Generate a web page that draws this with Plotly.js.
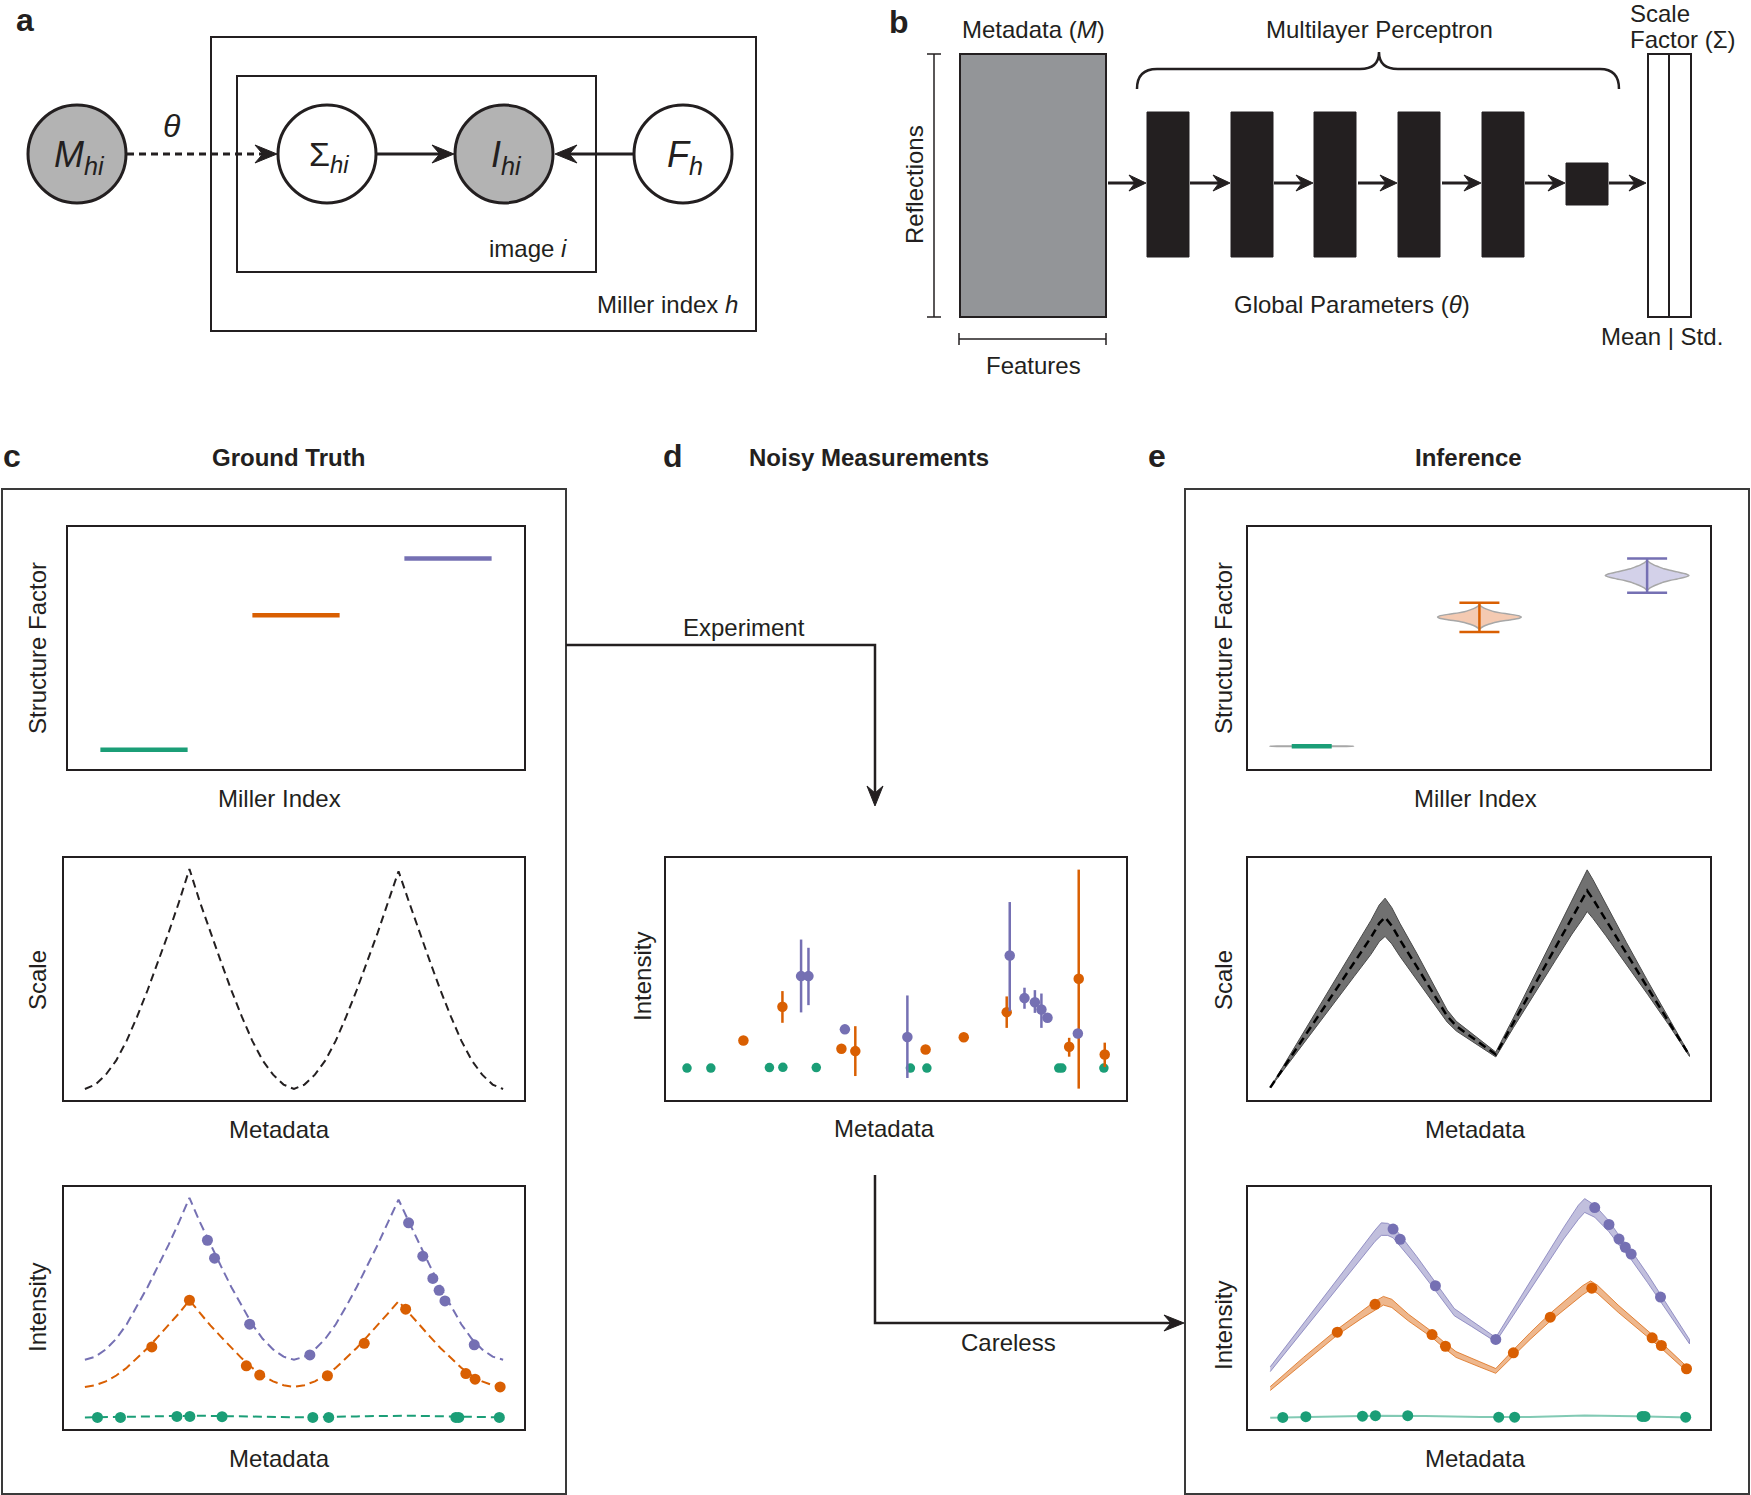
<!DOCTYPE html>
<html><head><meta charset="utf-8">
<script src="https://cdn.plot.ly/plotly-3.0.1.min.js"></script>
<style>html,body{margin:0;padding:0;background:#fff;}#fig{width:1751px;height:1495px;}</style>
</head><body><div id="fig"></div>
<script>
// ---------------- DATA ----------------
const millerIdx = [0, 1, 2];
const sfTrue = [0.92, 7.31, 10.0];
const sfInfCenter = [1.08, 7.22, 9.2];
const sfInfUpper = [1.13, 7.90, 10.0];
const sfInfLower = [1.03, 6.51, 8.37];
const violinHalfHeight = [0.04, 0.57, 0.70];
const violinProfT = [0, 0.1, 0.24, 0.35, 0.45, 0.6, 0.7, 0.85, 1];
const violinProfOrange = [1, 0.95, 0.72, 0.5, 0.36, 0.22, 0.14, 0.06, 0];
const violinProfPurple = [1, 0.93, 0.72, 0.54, 0.4, 0.26, 0.17, 0.07, 0];

const metaGrid = [0,2.5,5,7.5,10,12.5,15,17.5,20,22.5,25,27.5,30,32.5,35,37.5,40,42.5,45,47.5,50,52.5,55,57.5,60,62.5,65,67.5,70,72.5,75,77.5,80,82.5,85,87.5,90,92.5,95,97.5,100];
const scaleTrue = [0,0.02,0.065,0.13,0.22,0.33,0.45,0.58,0.71,0.85,1.0,0.85,0.71,0.58,0.45,0.33,0.22,0.13,0.065,0.02,0,0.02,0.065,0.13,0.22,0.33,0.45,0.58,0.71,0.85,0.99,0.85,0.71,0.58,0.45,0.33,0.22,0.13,0.065,0.02,0];
const purpleTrueCurve = [0.286,0.299,0.329,0.373,0.433,0.507,0.587,0.674,0.761,0.855,0.955,0.855,0.761,0.674,0.587,0.507,0.433,0.373,0.329,0.299,0.286,0.299,0.329,0.373,0.433,0.507,0.587,0.674,0.761,0.855,0.948,0.855,0.761,0.674,0.587,0.507,0.433,0.373,0.329,0.299,0.286];
const orangeTrueCurve = [0.174,0.181,0.197,0.221,0.253,0.292,0.335,0.382,0.428,0.478,0.532,0.478,0.428,0.382,0.335,0.292,0.253,0.221,0.197,0.181,0.174,0.181,0.197,0.221,0.253,0.292,0.335,0.382,0.428,0.478,0.528,0.478,0.428,0.382,0.335,0.292,0.253,0.221,0.197,0.181,0.174];
const greenTrueCurve = [0.048,0.048,0.049,0.049,0.050,0.051,0.052,0.053,0.054,0.055,0.056,0.055,0.054,0.053,0.052,0.051,0.050,0.049,0.049,0.048,0.048,0.048,0.049,0.049,0.050,0.051,0.052,0.053,0.054,0.055,0.056,0.055,0.054,0.053,0.052,0.051,0.050,0.049,0.049,0.048,0.048];

const greenX = [3.0, 8.5, 22.0, 25.1, 32.8, 54.5, 58.3, 88.7, 89.4, 99.1];
const orangeX = [16.0, 25.0, 38.6, 41.8, 58.0, 66.8, 76.7, 91.1, 93.3, 99.3];
const purpleX = [29.3, 31.0, 39.4, 53.8, 77.4, 80.8, 83.2, 84.7, 86.1, 93.1];

const greenTrue = [0.048,0.048,0.052,0.052,0.051,0.048,0.048,0.048,0.048,0.048];
const orangeTrue = [0.339,0.532,0.261,0.223,0.220,0.354,0.495,0.229,0.206,0.174];
const purpleTrue = [0.780,0.706,0.433,0.306,0.852,0.714,0.622,0.573,0.529,0.348];

const greenObs = [0.132,0.132,0.134,0.135,0.134,0.132,0.132,0.132,0.132,0.132];
const orangeObs = [0.246,0.385,0.212,0.202,0.209,0.259,0.363,0.220,0.501,0.188];
const orangeErrUp = [0,0.065,0,0.103,0,0,0.065,0.037,0.451,0.049];
const orangeErrDown = [0,0.066,0,0.103,0,0,0.065,0.041,0.454,0.052];
const purpleObs = [0.512,0.512,0.292,0.260,0.597,0.421,0.404,0.374,0.340,0.275];
const purpleErrUp = [0.151,0.117,0,0.172,0.221,0.043,0.050,0.066,0.010,0];
const purpleErrDown = [0.150,0.120,0,0.169,0.230,0.044,0.044,0.076,0.010,0];

const scaleBandX = [0,5,10,15,20,24,26,27.4,29,31,35,40,42.2,44.4,50,53.8,58,63,68,72,74.5,75.6,77,80,85,90,95,100];
const scaleMean = [0.051,0.180,0.310,0.438,0.568,0.671,0.730,0.755,0.720,0.660,0.550,0.410,0.347,0.305,0.235,0.188,0.319,0.475,0.631,0.756,0.828,0.865,0.830,0.746,0.605,0.465,0.325,0.184];
const scaleHi = [0.051,0.194,0.339,0.482,0.626,0.741,0.806,0.834,0.795,0.728,0.605,0.445,0.372,0.325,0.249,0.198,0.339,0.512,0.686,0.826,0.908,0.951,0.910,0.812,0.650,0.493,0.338,0.188];
const scaleLo = [0.051,0.166,0.281,0.394,0.510,0.601,0.654,0.676,0.645,0.592,0.495,0.375,0.322,0.285,0.221,0.178,0.299,0.438,0.576,0.686,0.748,0.779,0.750,0.680,0.560,0.437,0.312,0.180];

const purpleBandX = [0,10,20,25,26.5,28,29.3,31,35,39.4,43.9,48,53.8,60,65,70,73.5,75,77.4,80.8,83.2,84.7,86.1,90,93.1,100];
const purpleHi = [0.257,0.484,0.712,0.822,0.852,0.850,0.838,0.802,0.712,0.608,0.498,0.448,0.378,0.553,0.693,0.833,0.925,0.952,0.925,0.860,0.800,0.766,0.738,0.640,0.558,0.370];
const purpleLo = [0.237,0.455,0.668,0.775,0.800,0.800,0.790,0.755,0.672,0.572,0.468,0.424,0.360,0.525,0.655,0.785,0.866,0.895,0.875,0.815,0.760,0.728,0.700,0.605,0.528,0.352];
const orangeBandX = [0,8,16,22,25,27,29,33,38.6,41.8,44.3,50,53.8,58,62,66.8,71,74.5,76.4,78,83,88,91.1,93.3,99.3,100];
const orangeHi = [0.175,0.297,0.412,0.487,0.528,0.548,0.536,0.474,0.402,0.354,0.320,0.278,0.250,0.327,0.398,0.478,0.540,0.592,0.612,0.595,0.512,0.436,0.390,0.357,0.259,0.256];
const orangeLo = [0.159,0.275,0.388,0.459,0.492,0.512,0.502,0.446,0.378,0.330,0.296,0.256,0.230,0.303,0.370,0.446,0.506,0.554,0.576,0.561,0.482,0.408,0.364,0.333,0.239,0.238];
const greenLineX = [0,12,25,37,50,62,75,87,100];
const greenLineY = [0.047,0.050,0.055,0.054,0.050,0.050,0.056,0.053,0.048];

const greenPred = [0.048,0.051,0.053,0.055,0.055,0.049,0.049,0.052,0.052,0.049];
const orangePred = [0.400,0.515,0.390,0.342,0.315,0.462,0.582,0.377,0.345,0.249];
const purplePred = [0.826,0.784,0.592,0.370,0.915,0.845,0.785,0.751,0.723,0.545];

// ---------------- STYLE / HELPERS ----------------
const W = 1751, H = 1495;
const px = x => x / W, py = y => 1 - y / H;
const FONT = 'Liberation Sans, Arial, Helvetica, sans-serif';
const INK = '#231f20';
const GREEN = '#1b9e77', ORANGE = '#d95f02', PURPLE = '#7570b3';
const sfColors = [GREEN, ORANGE, PURPLE];

function axes(box, xr, yr, n) {
  const [x0, y0, x1, y1] = box;
  const base = {showline:true, mirror:true, linecolor:INK, linewidth:2, showticklabels:false,
    ticks:'', showgrid:false, zeroline:false, fixedrange:true};
  const xa = Object.assign({}, base, {domain:[px(x0), px(x1)], range:xr, anchor:'y'+(n===1?'':n)});
  const ya = Object.assign({}, base, {domain:[py(y1), py(y0)], range:yr, anchor:'x'+(n===1?'':n)});
  return [xa, ya];
}
const boxes = {
  1:[68,527,524,769], 2:[64,858,524,1100], 3:[64,1187,524,1429], 4:[666,858,1126,1100],
  5:[1248,527,1710,769], 6:[1248,858,1710,1100], 7:[1248,1187,1710,1429]
};
const ranges = {
  1:[[-0.5,2.5],[0,11.5]], 2:[[-5,105],[-0.05,1.05]], 3:[[-5,105],[0,1]], 4:[[-1.84,104.2],[0,1]],
  5:[[-0.38,2.375],[0,11.5]], 6:[[-5.3,104.9],[0,1]], 7:[[-5.3,104.9],[0,1]]
};

const layout = {width:W, height:H, margin:{l:0,r:0,t:0,b:0}, showlegend:false,
  paper_bgcolor:'#fff', plot_bgcolor:'#fff', font:{family:FONT, color:INK}, shapes:[], annotations:[]};
for (let n = 1; n <= 7; n++) {
  const [xa, ya] = axes(boxes[n], ranges[n][0], ranges[n][1], n);
  layout['xaxis' + (n===1?'':n)] = xa;
  layout['yaxis' + (n===1?'':n)] = ya;
}
const ax = n => ({xaxis:'x'+(n===1?'':n), yaxis:'y'+(n===1?'':n)});

const traces = [];
// c1: ground-truth structure factors
const segHalf = 0.287;
millerIdx.forEach((m, i) => traces.push(Object.assign({type:'scatter', mode:'lines',
  x:[m - segHalf, m + segHalf], y:[sfTrue[i], sfTrue[i]], line:{color:sfColors[i], width:4.5}}, ax(1))));

// c2: true scale
traces.push(Object.assign({type:'scatter', mode:'lines', x:metaGrid, y:scaleTrue,
  line:{color:INK, width:2, dash:'8px,5px'}}, ax(2)));

// c3: true intensities
[[greenTrueCurve, GREEN], [orangeTrueCurve, ORANGE], [purpleTrueCurve, PURPLE]].forEach(([yy, c]) =>
  traces.push(Object.assign({type:'scatter', mode:'lines', x:metaGrid, y:yy, line:{color:c, width:2, dash:'9px,5px'}}, ax(3))));
[[greenX, greenTrue, GREEN], [orangeX, orangeTrue, ORANGE], [purpleX, purpleTrue, PURPLE]].forEach(([xx, yy, c]) =>
  traces.push(Object.assign({type:'scatter', mode:'markers', x:xx, y:yy, marker:{color:c, size:11}}, ax(3))));

// d: noisy measurements
traces.push(Object.assign({type:'scatter', mode:'markers', x:greenX, y:greenObs, marker:{color:GREEN, size:9.5}}, ax(4)));
traces.push(Object.assign({type:'scatter', mode:'markers', x:orangeX, y:orangeObs, marker:{color:ORANGE, size:10.5},
  error_y:{type:'data', symmetric:false, array:orangeErrUp, arrayminus:orangeErrDown, color:ORANGE, thickness:2.5, width:0}}, ax(4)));
traces.push(Object.assign({type:'scatter', mode:'markers', x:purpleX, y:purpleObs, marker:{color:PURPLE, size:10.5},
  error_y:{type:'data', symmetric:false, array:purpleErrUp, arrayminus:purpleErrDown, color:PURPLE, thickness:2.5, width:0}}, ax(4)));

// e1: inferred structure factors (violins + caps)
const violinFill = ['rgba(27,158,119,0.3)', 'rgba(240,180,145,0.7)', 'rgba(200,198,228,0.8)'];
const violinProf = [violinProfOrange, violinProfOrange, violinProfPurple];
const violinHalfWidth = 0.25;
millerIdx.forEach((m, i) => {
  const xs = [], ys = [];
  const T = violinProfT, Wp = violinProf[i], hh = violinHalfHeight[i];
  for (let k = T.length - 1; k >= 0; k--) { xs.push(m + Wp[k] * violinHalfWidth); ys.push(sfInfCenter[i] - T[k] * hh); }
  for (let k = 1; k < T.length; k++) { xs.push(m + Wp[k] * violinHalfWidth); ys.push(sfInfCenter[i] + T[k] * hh); }
  for (let k = T.length - 2; k >= 0; k--) { xs.push(m - Wp[k] * violinHalfWidth); ys.push(sfInfCenter[i] + T[k] * hh); }
  for (let k = 1; k < T.length; k++) { xs.push(m - Wp[k] * violinHalfWidth); ys.push(sfInfCenter[i] - T[k] * hh); }
  traces.push(Object.assign({type:'scatter', mode:'lines', x:xs, y:ys, fill:'toself', fillcolor:violinFill[i],
    line:{color:'#a7a7a7', width:1.5, shape:'spline', smoothing:0.6}}, ax(5)));
});
millerIdx.forEach((m, i) => traces.push(Object.assign({type:'scatter', mode:'markers', x:[m], y:[sfInfCenter[i]],
  marker:{size:1, opacity:0}, error_y:{type:'data', symmetric:false, array:[sfInfUpper[i]-sfInfCenter[i]],
  arrayminus:[sfInfCenter[i]-sfInfLower[i]], color:sfColors[i], thickness:2.5, width:20}}, ax(5))));

// e2: inferred scale
traces.push(Object.assign({type:'scatter', mode:'lines', x:scaleBandX.concat(scaleBandX.slice().reverse()),
  y:scaleHi.concat(scaleLo.slice().reverse()), fill:'toself', fillcolor:'#717171', line:{color:'#4a4a4a', width:1}}, ax(6)));
traces.push(Object.assign({type:'scatter', mode:'lines', x:scaleBandX, y:scaleMean,
  line:{color:'#000', width:2.5, dash:'8px,5px'}}, ax(6)));

// e3: inferred intensities
traces.push(Object.assign({type:'scatter', mode:'lines', x:greenLineX, y:greenLineY, line:{color:'rgba(27,158,119,0.55)', width:2}}, ax(7)));
traces.push(Object.assign({type:'scatter', mode:'lines', x:purpleBandX.concat(purpleBandX.slice().reverse()),
  y:purpleHi.concat(purpleLo.slice().reverse()), fill:'toself', fillcolor:'rgba(117,112,179,0.45)',
  line:{color:'rgba(117,112,179,0.7)', width:1}}, ax(7)));
traces.push(Object.assign({type:'scatter', mode:'lines', x:orangeBandX.concat(orangeBandX.slice().reverse()),
  y:orangeHi.concat(orangeLo.slice().reverse()), fill:'toself', fillcolor:'rgba(217,95,2,0.45)',
  line:{color:'rgba(217,95,2,0.7)', width:1}}, ax(7)));
[[purpleX, purplePred, PURPLE], [orangeX, orangePred, ORANGE], [greenX, greenPred, GREEN]].forEach(([xx, yy, c]) =>
  traces.push(Object.assign({type:'scatter', mode:'markers', x:xx, y:yy, marker:{color:c, size:11}}, ax(7))));

traces.forEach(t => { t.hoverinfo = 'skip'; });

// ---------------- DIAGRAM SHAPES / TEXT ----------------
const S = layout.shapes, A = layout.annotations;
const P = (x, y) => px(x).toFixed(5) + ',' + py(y).toFixed(5);
function rect(x0, y0, x1, y1, o) { S.push(Object.assign({type:'rect', xref:'paper', yref:'paper', x0:px(x0), x1:px(x1),
  y0:py(y1), y1:py(y0), line:{color:INK, width:2}, fillcolor:'rgba(0,0,0,0)'}, o || {})); }
function seg(x0, y0, x1, y1, o) { S.push(Object.assign({type:'line', xref:'paper', yref:'paper', x0:px(x0), x1:px(x1),
  y0:py(y0), y1:py(y1), line:{color:INK, width:2}}, o || {})); }
function circ(cx, cy, r, fill) { S.push({type:'circle', xref:'paper', yref:'paper', x0:px(cx-r), x1:px(cx+r),
  y0:py(cy+r), y1:py(cy-r), line:{color:INK, width:3}, fillcolor:fill}); }
function pathShape(d, o) { S.push(Object.assign({type:'path', xref:'paper', yref:'paper', path:d, line:{color:INK, width:2.5}}, o || {})); }
function head(tx, ty, dx, dy, L, h) {
  const pxp = -dy, pyp = dx;
  const pts = [[tx, ty], [tx - L*dx + h*pxp, ty - L*dy + h*pyp], [tx - 0.65*L*dx, ty - 0.65*L*dy], [tx - L*dx - h*pxp, ty - L*dy - h*pyp]];
  pathShape('M ' + pts.map(p => P(p[0], p[1])).join(' L ') + ' Z', {fillcolor:INK, line:{color:INK, width:1}});
}
function txt(x, y, text, size, o) { A.push(Object.assign({xref:'paper', yref:'paper', x:px(x), y:py(y), text:text,
  showarrow:false, font:{family:FONT, size:size, color:INK}, xanchor:'center', yanchor:'middle'}, o || {})); }

// Panel a
txt(25, 20, '<b>a</b>', 32);
rect(211, 37, 756, 331);
rect(237, 76, 596, 272);
circ(77, 154, 49, '#b3b3b3'); circ(327, 154, 49, '#ffffff'); circ(504, 154, 49, '#b3b3b3'); circ(683, 154, 49, '#ffffff');
seg(127, 154, 264, 154, {line:{color:INK, width:3, dash:'7px,5px'}});
head(277, 154, 1, 0, 22, 9);
seg(377, 154, 441, 154, {line:{color:INK, width:3}});
head(454, 154, 1, 0, 22, 9);
seg(633, 154, 568, 154, {line:{color:INK, width:3}});
head(555, 154, -1, 0, 22, 9);
txt(79, 157, '<i>M</i><sub><i>hi</i></sub>', 36);
txt(329, 157, 'Σ<sub><i>hi</i></sub>', 34);
txt(506, 157, '<i>I</i><sub><i>hi</i></sub>', 36);
txt(685, 157, '<i>F</i><sub><i>h</i></sub>', 36);
txt(172, 126, '<i>θ</i>', 32);
txt(569, 249, 'image <i>i</i>', 24, {xanchor:'right'});
txt(740, 305, 'Miller index <i>h</i>', 24, {xanchor:'right'});

// Panel b
txt(899, 22, '<b>b</b>', 32);
txt(1033, 30, 'Metadata (<i>M</i>)', 24);
rect(960, 54, 1106, 317, {fillcolor:'#939598'});
seg(934, 54, 934, 317, {line:{color:INK, width:1.5}});
seg(927, 54, 941, 54, {line:{color:INK, width:1.5}});
seg(927, 317, 941, 317, {line:{color:INK, width:1.5}});
txt(914, 184, 'Reflections', 24, {textangle:-90});
seg(959, 339, 1106, 339, {line:{color:INK, width:1.5}});
seg(959, 333, 959, 345, {line:{color:INK, width:1.5}});
seg(1106, 333, 1106, 345, {line:{color:INK, width:1.5}});
txt(1033, 366, 'Features', 24);
const barX = [1147, 1231, 1314, 1398, 1482];
barX.forEach(x => rect(x, 112, x + 42, 257, {fillcolor:INK, line:{color:INK, width:1}}));
rect(1566, 163, 1608, 205, {fillcolor:INK, line:{color:INK, width:1}});
const arrowGaps = [[1108,1146],[1190,1230],[1274,1313],[1358,1397],[1442,1481],[1525,1565],[1609,1646]];
arrowGaps.forEach(([a, b]) => { seg(a, 183, b - 10, 183, {line:{color:INK, width:3}}); head(b, 183, 1, 0, 17, 8); });
rect(1648, 54, 1669, 317);
rect(1669, 54, 1691, 317);
txt(1628, 14, 'Scale', 24, {xanchor:'left'});
txt(1628, 40, 'Factor (Σ)', 24, {xanchor:'left'});
txt(1662, 336, 'Mean | Std.', 24);
pathShape('M ' + P(1137, 89) + ' Q ' + P(1137, 69) + ' ' + P(1157, 69) + ' L ' + P(1360, 69) + ' Q ' + P(1379, 69) + ' ' + P(1379, 52) +
  ' Q ' + P(1379, 69) + ' ' + P(1398, 69) + ' L ' + P(1600, 69) + ' Q ' + P(1619, 69) + ' ' + P(1619, 89), {line:{color:INK, width:2.5}});
txt(1379, 30, 'Multilayer Perceptron', 24);
txt(1352, 305, 'Global Parameters (<i>θ</i>)', 24);

// Panels c, d, e frames and titles
txt(12, 456, '<b>c</b>', 32);
txt(288, 458, '<b>Ground Truth</b>', 24);
txt(673, 456, '<b>d</b>', 32);
txt(869, 458, '<b>Noisy Measurements</b>', 24);
txt(1157, 456, '<b>e</b>', 32);
txt(1468, 458, '<b>Inference</b>', 24);
rect(2, 489, 566, 1494, {line:{color:'#3a3a3a', width:2}});
rect(1185, 489, 1749, 1494, {line:{color:'#3a3a3a', width:2}});

// connectors
pathShape('M ' + P(566, 645) + ' L ' + P(875, 645) + ' L ' + P(875, 792), {line:{color:INK, width:2.5}});
head(875, 806, 0, 1, 20, 8);
txt(744, 627, 'Experiment', 24);
pathShape('M ' + P(875, 1175) + ' L ' + P(875, 1323) + ' L ' + P(1170, 1323), {line:{color:INK, width:2.5}});
head(1184, 1323, 1, 0, 20, 8);
txt(1008, 1342, 'Careless', 24);

// axis labels
txt(37, 648, 'Structure Factor', 24, {textangle:-90});
txt(279, 798, 'Miller Index', 24);
txt(37, 980, 'Scale', 24, {textangle:-90});
txt(279, 1129, 'Metadata', 24);
txt(37, 1308, 'Intensity', 24, {textangle:-90});
txt(279, 1458, 'Metadata', 24);
txt(642, 977, 'Intensity', 24, {textangle:-90});
txt(884, 1128, 'Metadata', 24);
txt(1223, 648, 'Structure Factor', 24, {textangle:-90});
txt(1475, 798, 'Miller Index', 24);
txt(1223, 980, 'Scale', 24, {textangle:-90});
txt(1475, 1129, 'Metadata', 24);
txt(1223, 1326, 'Intensity', 24, {textangle:-90});
txt(1475, 1458, 'Metadata', 24);

Plotly.newPlot('fig', traces, layout, {displayModeBar:false, staticPlot:true});
</script></body></html>
